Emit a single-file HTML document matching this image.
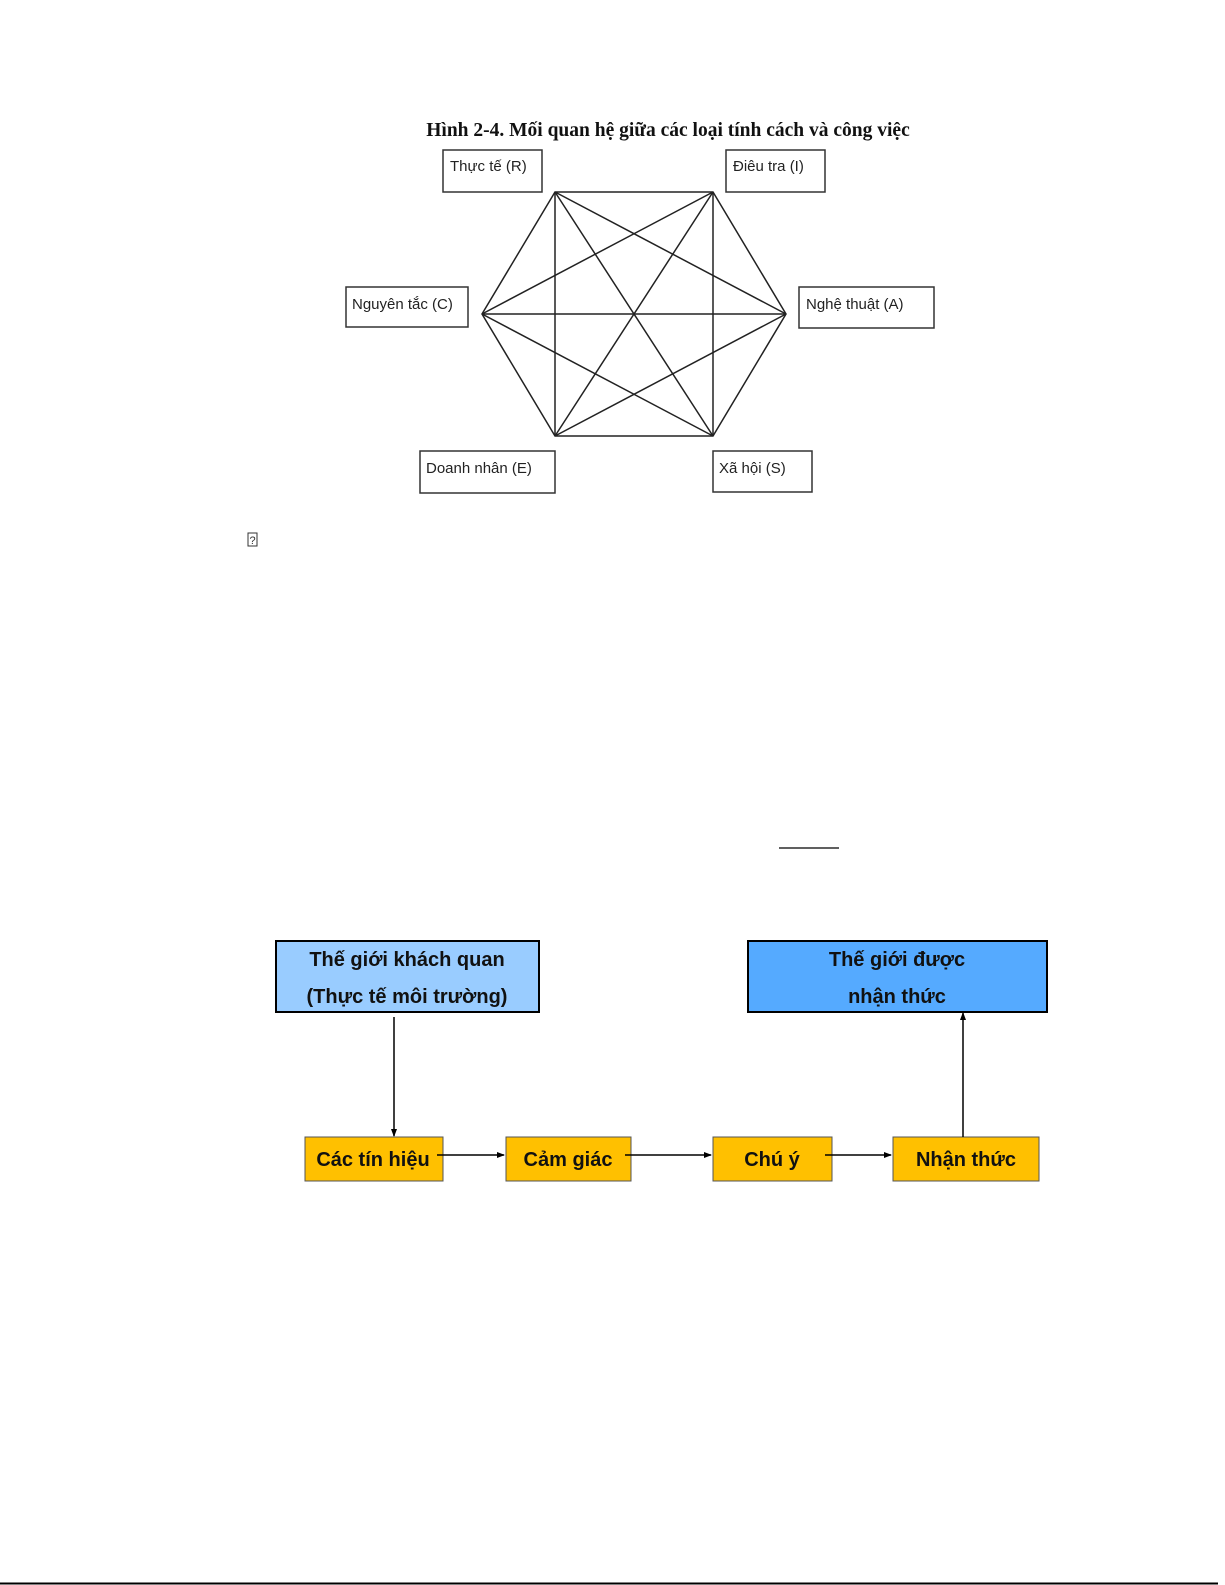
<!DOCTYPE html>
<html><head><meta charset="utf-8"><style>
html,body{margin:0;padding:0;background:#fff;}
body{width:1225px;height:1585px;position:relative;overflow:hidden;}
</style></head><body>
<svg width="1225" height="1585" xmlns="http://www.w3.org/2000/svg" style="position:absolute;left:0;top:0">
<defs>
<marker id="ah" markerWidth="8" markerHeight="8" refX="7" refY="4" orient="auto" markerUnits="userSpaceOnUse">
<path d="M0,1 L8,4 L0,7 z" fill="#000"/></marker>
</defs>
<text x="668" y="136" text-anchor="middle" font-family="Liberation Serif, serif" font-weight="bold" font-size="19.5" fill="#111">Hình 2-4. Mối quan hệ giữa các loại tính cách và công việc</text>
<g stroke="#222" stroke-width="1.5" fill="none">
<polygon points="555,192 713,192 786,314 713,436 555,436 482,314"/>
<line x1="555" y1="192" x2="786" y2="314"/><line x1="555" y1="192" x2="713" y2="436"/><line x1="555" y1="192" x2="555" y2="436"/>
<line x1="713" y1="192" x2="713" y2="436"/><line x1="713" y1="192" x2="555" y2="436"/><line x1="713" y1="192" x2="482" y2="314"/>
<line x1="786" y1="314" x2="555" y2="436"/><line x1="786" y1="314" x2="482" y2="314"/>
<line x1="713" y1="436" x2="482" y2="314"/>
</g>
<g stroke="#333" stroke-width="1.5" fill="#fff">
<rect x="443" y="150" width="99" height="42"/>
<rect x="726" y="150" width="99" height="42"/>
<rect x="346" y="287" width="122" height="40"/>
<rect x="799" y="287" width="135" height="41"/>
<rect x="420" y="451" width="135" height="42"/>
<rect x="713" y="451" width="99" height="41"/>
</g>
<g font-family="Liberation Sans, sans-serif" font-size="15" fill="#222">
<text x="450" y="171">Thực tế (R)</text>
<text x="733" y="171">Điêu tra (I)</text>
<text x="352" y="309">Nguyên tắc (C)</text>
<text x="806" y="309">Nghệ thuật (A)</text>
<text x="426" y="473">Doanh nhân (E)</text>
<text x="719" y="473">Xã hội (S)</text>
</g>
<rect x="248" y="533" width="9" height="13" fill="none" stroke="#333" stroke-width="1"/>
<text x="249.5" y="544" font-family="Liberation Sans, sans-serif" font-size="11" fill="#333">?</text>
<line x1="779" y1="848" x2="839" y2="848" stroke="#000" stroke-width="1.2"/>
<rect x="276" y="941" width="263" height="71" fill="#99ccff" stroke="#000" stroke-width="2"/>
<rect x="748" y="941" width="299" height="71" fill="#55aaff" stroke="#000" stroke-width="2"/>
<g fill="#ffc000" stroke="#555" stroke-width="1">
<rect x="305" y="1137" width="138" height="44"/>
<rect x="506" y="1137" width="125" height="44"/>
<rect x="713" y="1137" width="119" height="44"/>
<rect x="893" y="1137" width="146" height="44"/>
</g>
<g stroke="#000" stroke-width="1.5" marker-end="url(#ah)">
<line x1="394" y1="1017" x2="394" y2="1136"/>
<line x1="963" y1="1137" x2="963" y2="1013"/>
<line x1="437" y1="1155" x2="504" y2="1155"/>
<line x1="625" y1="1155" x2="711" y2="1155"/>
<line x1="825" y1="1155" x2="891" y2="1155"/>
</g>
<g font-family="Liberation Sans, sans-serif" font-weight="bold" font-size="20" fill="#111" text-anchor="middle">
<text x="407" y="966">Thế giới khách quan</text>
<text x="407" y="1003">(Thực tế môi trường)</text>
<text x="897" y="966">Thế giới được</text>
<text x="897" y="1003">nhận thức</text>
<text x="373" y="1166">Các tín hiệu</text>
<text x="568" y="1166">Cảm giác</text>
<text x="772" y="1166">Chú ý</text>
<text x="966" y="1166">Nhận thức</text>
</g>
<line x1="0" y1="1583.5" x2="1218" y2="1583.5" stroke="#000" stroke-width="2"/>
</svg>
</body></html>
